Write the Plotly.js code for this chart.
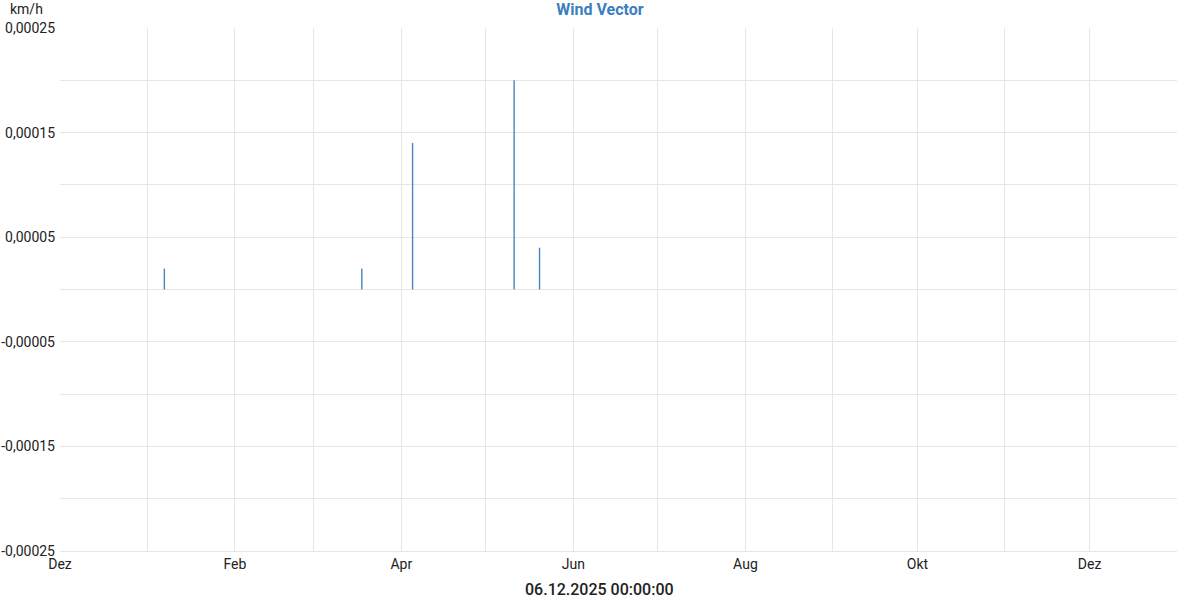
<!DOCTYPE html>
<html>
<head>
<meta charset="utf-8">
<script src="https://cdn.plot.ly/plotly-3.0.1.min.js"></script>
<style>html,body{margin:0;padding:0;background:#fff;}#chart{width:1200px;height:600px;}</style>
</head>
<body>
<div id="chart"></div>
<script>
const dates = ['2025-01-07', '2025-03-18', '2025-04-05', '2025-05-11', '2025-05-20'];
const values = [0.00002, 0.00002, 0.00014, 0.0002, 0.00004];

const monthTicks = ['2024-12-01','2025-01-01','2025-02-01','2025-03-01','2025-04-01','2025-05-01','2025-06-01','2025-07-01','2025-08-01','2025-09-01','2025-10-01','2025-11-01','2025-12-01','2026-01-01'];
const monthLabels = ['Dez','','Feb','','Apr','','Jun','','Aug','','Okt','','Dez',''];

const yTicks = [0.00025,0.0002,0.00015,0.0001,0.00005,0,-0.00005,-0.0001,-0.00015,-0.0002,-0.00025];
const yLabels = ['0,00025','','0,00015','','0,00005','','-0,00005','','-0,00015','','-0,00025'];

const titleText = 'Wind Vector';
const unitText = 'km/h';
const xTitleText = '06.12.2025 00:00:00';

const trace = {
  type: 'bar',
  x: dates,
  y: values,
  width: dates.map(() => 12*3600*1000),
  marker: {color: '#4a86c0', line: {width: 0}},
  hoverinfo: 'x+y'
};

const layout = {
  width: 1200, height: 600,
  margin: {l: 60, r: 23, t: 28, b: 49},
  paper_bgcolor: '#fff', plot_bgcolor: '#fff',
  font: {family: 'Roboto, sans-serif', size: 14, color: '#222'},
  showlegend: false,
  title: {text: '<b>' + titleText + '</b>', x: 0.5, xref: 'container', y: 0.993, yref: 'container', yanchor: 'top', font: {size: 16, color: '#3a7ebf', family: 'Roboto, sans-serif'}},
  xaxis: {
    type: 'date',
    range: ['2024-12-01', '2026-01-01'],
    tickvals: monthTicks,
    ticktext: monthLabels,
    tickmode: 'array',
    showgrid: true, gridcolor: '#e6e6e6', gridwidth: 1,
    showline: true, linecolor: '#e6e6e6', linewidth: 1,
    ticks: '', ticklen: 0,
    tickfont: {size: 14, color: '#222'},
    zeroline: false,
    fixedrange: true
  },
  yaxis: {
    range: [-0.00025, 0.00025],
    tickvals: yTicks,
    ticktext: yLabels,
    tickmode: 'array',
    showgrid: true, gridcolor: '#e6e6e6', gridwidth: 1,
    zeroline: true, zerolinecolor: '#e6e6e6', zerolinewidth: 1,
    showline: false,
    ticks: '', ticklabelstandoff: 4,
    tickfont: {size: 14, color: '#222'},
    fixedrange: true
  },
  annotations: [
    {text: unitText, xref: 'paper', yref: 'paper', x: -0.0467, y: 1.0, xanchor: 'left', yanchor: 'bottom', yshift: 9, showarrow: false, font: {size: 14, color: '#222'}},
    {text: xTitleText, xref: 'paper', yref: 'paper', x: 0.4834, y: 0, xanchor: 'center', yanchor: 'top', yshift: -28, borderpad: 0, showarrow: false, font: {size: 16, color: '#222', family: 'Roboto, sans-serif', weight: 500}}
  ]
};

Plotly.newPlot('chart', [trace], layout, {displayModeBar: false, staticPlot: true});
</script>
</body>
</html>
